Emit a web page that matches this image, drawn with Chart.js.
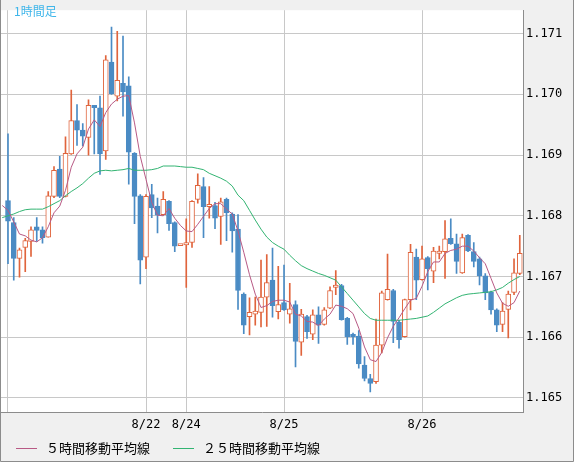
<!DOCTYPE html>
<html>
<head>
<meta charset="utf-8">
<script src="https://cdn.jsdelivr.net/npm/chart.js@4/dist/chart.umd.min.js"></script>
<style>
  html, body { margin: 0; padding: 0; background: #f0f0f0; }
  #wrap { width: 574px; height: 462px; position: relative; }
</style>
</head>
<body>
<div id="wrap"><canvas id="chart"></canvas></div>
<script>
// hourly candles, index 0 is only there for the moving averages
const opens = [null,
  1.16825, 1.16789, 1.16730, 1.16748, 1.16758, 1.16782, 1.16777, 1.16765, 1.16832, 1.16877,
  1.16832, 1.16902, 1.16957, 1.16941, 1.16929, 1.16982, 1.16978, 1.16907, 1.17053, 1.16997,
  1.17018, 1.17014, 1.16903, 1.16833, 1.16732, 1.16835, 1.16816, 1.16802, 1.16824, 1.16789,
  1.16751, 1.16752, 1.16756, 1.16827, 1.16848, 1.16815, 1.16817, 1.16799, 1.16827, 1.16803,
  1.16778, 1.16671, 1.16634, 1.16638, 1.16641, 1.16666, 1.16694, 1.16642, 1.16657, 1.16638,
  1.16654, 1.16592, 1.16634, 1.16605, 1.16637, 1.16621, 1.16648, 1.16682, 1.16685, 1.16631,
  1.16605, 1.16602, 1.16554, 1.16532, 1.16527, 1.16587, 1.16662, 1.16677, 1.16625, 1.16601,
  1.16662, 1.16732, 1.16695, 1.16731, 1.16709, 1.16738, 1.16741, 1.16763, 1.16754, 1.16706,
  1.16768, 1.16741, 1.16729, 1.16701, 1.16674, 1.16645, 1.16621, 1.16646, 1.16674, 1.16705];
const highs = [null,
  1.16935, 1.16797, 1.16747, 1.16763, 1.16782, 1.16797, 1.16782, 1.16840, 1.16881, 1.16898,
  1.16930, 1.17007, 1.16983, 1.16952, 1.16991, 1.16982, 1.16997, 1.17064, 1.17111, 1.17104,
  1.17096, 1.17029, 1.16904, 1.16835, 1.16835, 1.16852, 1.16829, 1.16840, 1.16825, 1.16790,
  1.16752, 1.16795, 1.16825, 1.16869, 1.16863, 1.16848, 1.16822, 1.16829, 1.16829, 1.16805,
  1.16802, 1.16673, 1.16665, 1.16666, 1.16727, 1.16736, 1.16747, 1.16717, 1.16719, 1.16689,
  1.16660, 1.16646, 1.16636, 1.16645, 1.16650, 1.16649, 1.16683, 1.16710, 1.16687, 1.16633,
  1.16607, 1.16611, 1.16568, 1.16539, 1.16630, 1.16676, 1.16737, 1.16679, 1.16628, 1.16663,
  1.16753, 1.16745, 1.16750, 1.16733, 1.16748, 1.16750, 1.16792, 1.16795, 1.16770, 1.16770,
  1.16769, 1.16756, 1.16732, 1.16705, 1.16676, 1.16647, 1.16657, 1.16676, 1.16729, 1.16768];
const lows = [null,
  1.16721, 1.16694, 1.16699, 1.16708, 1.16733, 1.16758, 1.16755, 1.16765, 1.16830, 1.16830,
  1.16831, 1.16901, 1.16916, 1.16915, 1.16900, 1.16902, 1.16868, 1.16893, 1.17000, 1.16989,
  1.16964, 1.16852, 1.16787, 1.16688, 1.16713, 1.16797, 1.16772, 1.16801, 1.16776, 1.16741,
  1.16751, 1.16682, 1.16748, 1.16821, 1.16764, 1.16796, 1.16779, 1.16753, 1.16759, 1.16740,
  1.16646, 1.16606, 1.16604, 1.16620, 1.16617, 1.16618, 1.16633, 1.16630, 1.16644, 1.16623,
  1.16551, 1.16570, 1.16598, 1.16596, 1.16590, 1.16620, 1.16647, 1.16670, 1.16628, 1.16588,
  1.16588, 1.16549, 1.16528, 1.16510, 1.16524, 1.16574, 1.16661, 1.16591, 1.16582, 1.16600,
  1.16645, 1.16662, 1.16694, 1.16678, 1.16690, 1.16729, 1.16697, 1.16753, 1.16705, 1.16705,
  1.16741, 1.16716, 1.16686, 1.16662, 1.16638, 1.16609, 1.16609, 1.16599, 1.16670, 1.16703];
const closes = [null,
  1.16791, 1.16730, 1.16744, 1.16759, 1.16777, 1.16776, 1.16764, 1.16833, 1.16875, 1.16832,
  1.16903, 1.16957, 1.16941, 1.16931, 1.16982, 1.16978, 1.16902, 1.17057, 1.17001, 1.17023,
  1.17004, 1.16905, 1.16832, 1.16727, 1.16832, 1.16813, 1.16801, 1.16827, 1.16787, 1.16750,
  1.16752, 1.16756, 1.16824, 1.16850, 1.16815, 1.16819, 1.16796, 1.16823, 1.16805, 1.16775,
  1.16677, 1.16620, 1.16641, 1.16643, 1.16666, 1.16690, 1.16652, 1.16654, 1.16645, 1.16647,
  1.16593, 1.16638, 1.16609, 1.16637, 1.16620, 1.16645, 1.16677, 1.16686, 1.16629, 1.16601,
  1.16601, 1.16556, 1.16532, 1.16524, 1.16587, 1.16673, 1.16679, 1.16626, 1.16596, 1.16662,
  1.16740, 1.16694, 1.16729, 1.16713, 1.16742, 1.16742, 1.16762, 1.16754, 1.16725, 1.16764,
  1.16742, 1.16725, 1.16701, 1.16673, 1.16645, 1.16620, 1.16643, 1.16671, 1.16706, 1.16738];

// moving averages
const ma5 = [1.16817,
  1.16809, 1.16790, 1.16770, 1.16767, 1.16760, 1.16757, 1.16764, 1.16782, 1.16805, 1.16816,
  1.16842, 1.16880, 1.16902, 1.16913, 1.16943, 1.16958, 1.16947, 1.16970, 1.16984, 1.16992,
  1.16997, 1.16998, 1.16953, 1.16898, 1.16860, 1.16822, 1.16801, 1.16800, 1.16812, 1.16796,
  1.16784, 1.16775, 1.16774, 1.16786, 1.16799, 1.16812, 1.16820, 1.16820, 1.16811, 1.16803,
  1.16775, 1.16740, 1.16703, 1.16671, 1.16649, 1.16652, 1.16659, 1.16661, 1.16661, 1.16658,
  1.16638, 1.16635, 1.16626, 1.16625, 1.16619, 1.16630, 1.16638, 1.16653, 1.16651, 1.16647,
  1.16639, 1.16615, 1.16584, 1.16563, 1.16560, 1.16575, 1.16599, 1.16618, 1.16632, 1.16647,
  1.16661, 1.16664, 1.16684, 1.16708, 1.16724, 1.16724, 1.16738, 1.16743, 1.16745, 1.16750,
  1.16750, 1.16742, 1.16731, 1.16721, 1.16697, 1.16673, 1.16656, 1.16651, 1.16657, 1.16676];
const ma25 = [1.16797,
  1.16800, 1.16803, 1.16807, 1.16810, 1.16811, 1.16811, 1.16811, 1.16815, 1.16820, 1.16825,
  1.16833, 1.16840, 1.16846, 1.16853, 1.16862, 1.16870, 1.16874, 1.16875, 1.16874, 1.16875,
  1.16876, 1.16878, 1.16875, 1.16875, 1.16875, 1.16876, 1.16878, 1.16882, 1.16882, 1.16882,
  1.16881, 1.16880, 1.16880, 1.16878, 1.16876, 1.16870, 1.16866, 1.16862, 1.16857, 1.16849,
  1.16834, 1.16825, 1.16809, 1.16793, 1.16778, 1.16765, 1.16756, 1.16750, 1.16745, 1.16735,
  1.16726, 1.16718, 1.16713, 1.16709, 1.16705, 1.16702, 1.16698, 1.16694, 1.16683, 1.16672,
  1.16661, 1.16650, 1.16639, 1.16631, 1.16628, 1.16628, 1.16628, 1.16628, 1.16628, 1.16629,
  1.16630, 1.16631, 1.16633, 1.16635, 1.16641, 1.16648, 1.16655, 1.16660, 1.16665, 1.16669,
  1.16671, 1.16672, 1.16673, 1.16674, 1.16675, 1.16678, 1.16682, 1.16689, 1.16695, 1.16700];

// day boundaries (candle index) and their labels
const day_ticks = [1, 25, 32, 49, 73];
const day_labels = ['', '8/22', '8/24', '8/25', '8/26'];
const price_ticks = [1.165, 1.166, 1.167, 1.168, 1.169, 1.170, 1.171];

const up_color = '#e0643c';
const down_color = '#4a8bc4';
const ma5_color = '#b85a85';
const ma25_color = '#32b472';

function is_up(i){
    return closes[i] >= opens[i];
}

var wick_data = [];
var body_data = [];
for (let i = 0; i < opens.length; i++){
    if (opens[i] === null) continue;
    wick_data.push({x: i, y: [lows[i], highs[i]]});
    body_data.push({x: i, y: [opens[i], closes[i]]});
}
var ma5_data = ma5.map((v, i) => ({x: i, y: v}));
var ma25_data = ma25.map((v, i) => ({x: i, y: v}));

const frame_plugin = {
    id: 'frame',
    beforeDraw(chart){
        const c = chart.ctx, a = chart.chartArea;
        c.save();
        c.fillStyle = '#f0f0f0';
        c.fillRect(0, 0, chart.width, chart.height);
        c.fillStyle = '#ffffff';
        c.fillRect(a.left, a.top, a.right - a.left, a.bottom - a.top);
        c.restore();
    },
    afterDraw(chart){
        const c = chart.ctx;
        c.save();
        // outer frame
        c.strokeStyle = '#8c8c8c';
        c.lineWidth = 1;
        c.beginPath();
        c.moveTo(0.5, 0); c.lineTo(0.5, 461.5);
        c.lineTo(573.5, 461.5); c.lineTo(573.5, 0);
        c.stroke();

        // title
        c.font = '12px "Noto Sans CJK JP"';
        c.fillStyle = '#3fb6ea';
        c.textBaseline = 'middle';
        c.textAlign = 'left';
        c.fillText('1時間足', 14, 11);

        // legend for the two averages
        const legend_x = [16, 173];
        const lines = chart.data.datasets.filter(d => d.type === 'line');
        c.font = '13px "Noto Sans CJK JP"';
        c.fillStyle = '#000';
        lines.forEach((d, k) => {
            c.strokeStyle = d.borderColor;
            c.beginPath();
            c.moveTo(legend_x[k], 448.5);
            c.lineTo(legend_x[k] + 21, 448.5);
            c.stroke();
            c.fillText(d.label, legend_x[k] + 30, 448);
        });
        c.restore();
    }
};

Chart.defaults.font.family = 'DejaVu Sans Mono';
Chart.defaults.font.size = 12;
Chart.defaults.color = '#000';

const config = {
    type: 'bar',
    data: {
        datasets: [
            {
                type: 'line',
                label: '５時間移動平均線',
                data: ma5_data,
                borderColor: ma5_color,
                borderWidth: 1,
                pointRadius: 0,
                tension: 0,
                order: 0
            },
            {
                type: 'line',
                label: '２５時間移動平均線',
                data: ma25_data,
                borderColor: ma25_color,
                borderWidth: 1,
                pointRadius: 0,
                tension: 0,
                order: 1
            },
            {
                label: 'body',
                data: body_data,
                grouped: false,
                barThickness: 5,
                minBarLength: 2,
                borderWidth: 1,
                borderSkipped: false,
                backgroundColor: ctx => is_up(ctx.raw.x) ? '#ffffff' : down_color,
                borderColor: ctx => is_up(ctx.raw.x) ? up_color : down_color,
                order: 2
            },
            {
                label: 'wick',
                data: wick_data,
                grouped: false,
                barThickness: 1,
                backgroundColor: ctx => is_up(ctx.raw.x) ? up_color : down_color,
                order: 3
            }
        ]
    },
    options: {
        responsive: true,
        maintainAspectRatio: false,
        animation: false,
        events: [],
        layout: { padding: { left: 1, top: 0, right: 0, bottom: 0 } },
        plugins: {
            legend: { display: false },
            tooltip: { enabled: false }
        },
        scales: {
            x: {
                type: 'linear',
                offset: false,
                min: -0.217,
                max: 90.56,
                afterBuildTicks: s => { s.ticks = day_ticks.map(v => ({value: v})); },
                afterFit: s => { s.height = 50; },
                ticks: {
                    padding: 6,
                    maxRotation: 0,
                    autoSkip: false,
                    callback: v => day_labels[day_ticks.indexOf(v)]
                },
                grid: { color: '#c8c8c8', drawTicks: false, offset: false },
                border: { color: '#8c8c8c' }
            },
            y: {
                position: 'right',
                min: 1.164769,
                max: 1.171386,
                afterBuildTicks: s => { s.ticks = price_ticks.map(v => ({value: v})); },
                afterFit: s => { s.width = 51; },
                ticks: {
                    padding: 3,
                    callback: v => v.toFixed(3)
                },
                grid: { color: '#c8c8c8', drawTicks: false },
                border: { color: '#8c8c8c' }
            }
        }
    },
    plugins: [frame_plugin]
};

var chart_1 = new Chart(document.getElementById('chart'), config);
</script>
</body>
</html>
